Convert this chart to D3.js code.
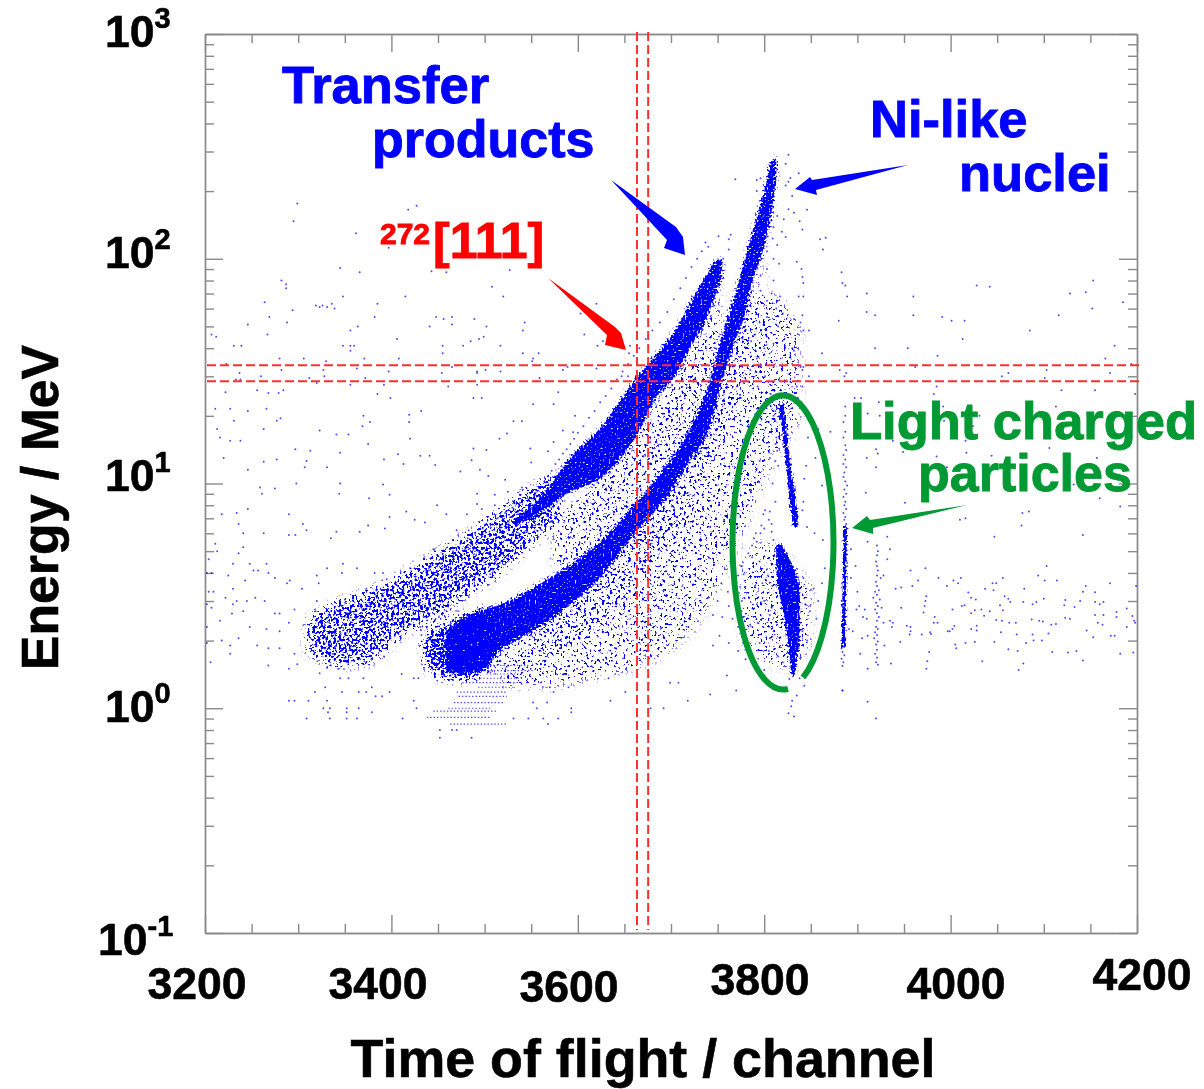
<!DOCTYPE html>
<html>
<head>
<meta charset="utf-8">
<script src="https://cdn.jsdelivr.net/npm/d3@7"></script>
<style>
  html, body { margin: 0; padding: 0; background: #fff; }
  text { font-family: "Liberation Sans", Arial, sans-serif; font-weight: bold; }
  svg { filter: blur(0.4px); }
</style>
</head>
<body>
<div id="chart"></div>
<script>
// Axis ticks
var xMajor = [3200, 3400, 3600, 3800, 4000, 4200];
var xMinor = [3250, 3300, 3350, 3450, 3500, 3550, 3650, 3700, 3750, 3850, 3900, 3950, 4050, 4100, 4150];
var yMajor = [0.1, 1, 10, 100, 1000];
var yMinor = [0.2, 0.3, 0.4, 0.5, 0.6, 0.7, 0.8, 0.9, 2, 3, 4, 5, 6, 7, 8, 9, 20, 30, 40, 50, 60, 70, 80, 90, 200, 300, 400, 500, 600, 700, 800, 900];
var yExponents = ["-1", "0", "1", "2", "3"];

// Red gates
var gateTof = [3663.5, 3675.5];
var gateEnergy = [33.6, 28.5];

// Solid bands: upper and lower energy at each time of flight
var niTof = [3458, 3474, 3495, 3517, 3552, 3588, 3624, 3659, 3696, 3720, 3742, 3755, 3767, 3779, 3788, 3799, 3808, 3813];
var niHigh = [2.1, 2.5, 2.7, 2.9, 3.45, 4.25, 5.5, 7.9, 12.2, 17.4, 29, 46, 66, 99, 135, 193, 275, 285];
var niLow = [1.5, 1.42, 1.46, 1.8, 2.2, 2.8, 3.8, 5.85, 8.8, 12.6, 18, 28.6, 41, 55.7, 80, 108, 160, 225];

var transferTof = [3530, 3552, 3570, 3588, 3624, 3664, 3685, 3704, 3720, 3739, 3750, 3755];
var transferHigh = [6.9, 8, 9.8, 12.5, 17.7, 30, 38, 48, 63, 86, 100, 100];
var transferLow = [6.5, 7.1, 7.9, 9, 10.5, 16.5, 24.4, 29.6, 39.5, 55, 73, 82];

// Lighter density clouds
var upperCloudTof = [3310, 3345, 3375, 3410, 3445, 3480, 3516, 3552, 3580];
var upperCloudHigh = [2.5, 3.0, 3.3, 3.9, 4.8, 5.9, 7.6, 9.7, 11];
var upperCloudLow = [1.8, 1.55, 1.6, 2.1, 2.5, 3.2, 4.0, 5.5, 6.8];

var footTof = [3435, 3458, 3480, 3510];
var footHigh = [2.1, 2.4, 2.6, 2.8];
var footLow = [1.6, 1.35, 1.35, 1.5];

var skirtInnerTof = [3552, 3624, 3678, 3731, 3774, 3800];
var skirtInnerHigh = [2.34, 4.03, 8, 16, 50, 110];
var skirtInnerLow = [1.72, 2.34, 4.3, 9.3, 29, 65];

var skirtTof = [3517, 3570, 3624, 3678, 3731, 3774, 3806, 3838];
var skirtHigh = [1.91, 2.6, 4.03, 8, 16.4, 50, 70, 50];
var skirtLow = [1.25, 1.25, 1.38, 1.6, 2.46, 5.6, 11.4, 19];

var gapTof = [3575, 3624, 3667, 3710, 3742, 3752];
var gapHigh = [7, 10.5, 18, 32, 60, 80];
var gapLow = [4.2, 5.2, 7.5, 12, 28, 45];

var lightCloudTof = [3775, 3800, 3830, 3850];
var lightCloudHigh = [4.5, 5.5, 4.5, 3.5];
var lightCloudLow = [2, 1.6, 1.5, 2];

// Near vertical streaks: left and right time of flight at each energy
var streakAEnergy = [22.6, 14.5, 10.3, 7.3, 6.4];
var streakALeft = [3815, 3821.5, 3825, 3829, 3831];
var streakARight = [3821, 3826, 3831, 3836, 3836];

var streakBEnergy = [5.4, 4.2, 3.4, 2.64, 2.05, 1.75, 1.4];
var streakBLeft = [3813, 3813, 3815, 3821, 3825, 3827, 3829];
var streakBRight = [3819, 3832, 3838, 3838, 3838, 3836, 3833];

var streakCEnergy = [6.5, 1.85];
var streakCLeft = [3885, 3883];
var streakCRight = [3889, 3887];

// Quantised rows at the foot of the Ni band
var rowEnergy = [1.55, 1.47, 1.42, 1.36, 1.3, 1.24, 1.18, 1.13, 1.06, 1.0, 0.97, 0.91, 0.85];
var rowStart = [3502, 3499, 3502, 3495, 3476, 3493, 3470, 3472, 3467, 3461, 3445, 3438, 3463];
var rowEnd = [3547, 3552, 3542, 3542, 3540, 3531, 3524, 3524, 3522, 3506, 3513, 3506, 3524];

// Single events [time of flight, energy]
var sparseLeft = [[3222,25.5],[3256,26],[3268,25.3],[3279,25.3],[3284,26],[3320,28],[3356,27.5],[3392,27.5],[3385,25],[3399,24],[3211,21.5],[3227,21.5],[3246,21],[3266,21.5],[3281,19.5],[3277,19],[3231,19],[3213,17.5],[3263,17.5],[3216,16],[3227,15.5],[3238,15.5],[3220,13],[3263,12.5],[3277,12.8],[3246,11.5],[3297,14.2],[3313,14],[3309,12.6],[3307,11.8],[3331,11.8],[3345,13.7],[3341,16.5],[3354,16.5],[3323,17.2],[3370,20],[3369,18],[3377,18.8],[3375,15],[3392,12.8],[3407,13.5],[3413,12.2],[3420,15.8],[3419,18.8],[3419,20.2],[3432,21],[3461,27],[3492,27.5],[3488,24],[3497,24],[3259,9.6],[3275,9.5],[3261,9],[3298,10],[3345,10],[3344,9],[3376,8.6],[3398,8.9],[3391,9.9],[3246,7.7],[3234,7.4],[3218,7.3],[3290,7.3],[3305,6.6],[3236,6.6],[3241,6],[3263,6],[3290,5.9],[3297,5.9],[3309,6.2],[3341,6.1],[3335,5.7],[3366,6.1],[3375,6.5],[3393,6.3],[3398,7.1],[3416,7.5],[3425,6.9],[3436,6.7],[3449,8],[3459,7.3],[3481,7.3],[3492,8.1],[3511,8.9],[3492,9],[3511,8],[3431,13.3],[3441,13.3],[3447,12.1],[3474,11.3],[3495,11.5],[3486,12.7],[3504,10.8],[3522,10.4],[3540,9.6],[3488,14.3],[3502,14.1],[3516,15.8],[3524,16.7],[3549,14.3],[3568,13.9],[3550,12.4],[3540,18.9],[3531,18.9],[3552,22.5],[3574,22.5],[3579,25.5],[3597,20],[3584,17.2],[3574,15.3],[3595,16.9],[3211,5.4],[3241,5.2],[3236,4.9],[3230,4.4],[3248,4.4],[3266,4.4],[3213,5],[3204,4.6],[3202,4],[3207,4],[3225,3.9],[3252,4.1],[3257,4.1],[3268,4],[3275,3.8],[3288,3.6],[3291,3.7],[3304,3.4],[3320,3.9],[3322,3.6],[3331,4.2],[3348,4.4],[3347,4],[3363,4.2],[3382,4],[3391,4],[3230,3.4],[3243,3.7],[3209,3.3],[3204,3.3],[3222,3.1],[3234,3],[3245,3],[3254,3.1],[3264,3],[3202,2.9],[3207,2.8],[3230,2.9],[3241,2.7],[3229,2.64],[3275,2.64],[3280,2.64],[3296,2.75],[3318,2.75],[3320,3],[3202,2.3],[3216,2.45],[3248,2.3],[3266,2.25],[3280,2.2],[3290,2.4],[3236,2.05],[3218,2],[3202,1.95],[3227,1.9],[3256,1.9],[3268,1.85],[3280,1.85],[3296,1.75],[3227,1.75],[3206,1.6],[3268,1.55],[3290,1.5],[3299,1.57]];

var sparseTop = [[3299,176],[3295,147],[3362,130],[3418,165],[3427,172],[3397,112],[3496,103],[3345,91],[3366,87],[3443,88],[3459,87],[3527,89],[3282,80],[3287,77],[3287,74],[3508,75],[3415,68],[3348,68],[3520,68],[3264,64],[3385,63],[3319,62],[3323,61],[3326,62],[3331,61],[3336,63],[3339,60],[3294,59],[3620,63],[3269,55],[3382,55],[3448,55],[3456,54],[3465,55],[3603,57],[3246,51],[3288,52],[3465,51],[3489,54],[3543,52],[3502,50],[3441,50],[3364,50],[3356,48],[3541,48],[3607,46],[3207,46],[3212,45],[3267,46],[3499,45],[3494,44],[3485,43],[3477,41],[3406,44],[3627,43],[3231,41],[3239,41],[3348,41],[3356,41],[3360,41],[3455,41],[3517,41],[3621,41],[3656,41],[3356,39],[3455,38],[3541,38],[3558,38],[3655,38],[3280,36],[3306,36],[3330,35],[3371,36],[3408,36],[3552,36],[3551,35],[3223,34],[3465,33],[3589,33],[3237,31],[3282,32],[3327,32],[3363,32.5],[3397,31.5],[3454,31],[3492,31.5],[3501,32],[3517,31.5],[3584,32],[3620,32.5],[3233,29],[3238,29],[3260,30],[3312,29.5],[3328,30],[3372,29.5],[3492,31],[3559,29.5],[3647,30],[3654,30]];

var sparseLow = [[3452,0.8],[3465,0.8],[3470,0.8],[3452,0.74],[3486,0.74],[3309,0.9],[3334,0.9],[3352,0.9],[3363,0.9],[3412,0.9],[3332,0.96],[3352,0.96],[3379,0.96],[3290,1.08],[3296,1.08],[3311,1.08],[3331,1.08],[3327,1],[3334,1],[3352,1],[3365,1],[3424,1.08],[3427,1],[3318,1.18],[3347,1.18],[3365,1.18],[3373,1.18],[3383,1.13],[3390,1.13],[3398,1.18],[3329,1.24],[3345,1.36],[3354,1.36],[3370,1.36],[3379,1.24],[3323,1.43],[3331,1.52],[3411,1.42],[3424,1.36],[3429,1.36],[3574,1.18],[3590,1.24],[3593,1],[3593,0.96],[3579,0.9],[3563,0.9],[3547,0.9],[3531,0.9],[3568,0.85],[3651,1.18],[3635,1.08],[3678,1],[3692,1],[3718,1.08],[3699,1.3],[3708,1.3],[3676,1.3],[3633,1.36],[3617,1.47],[3570,1.24],[3552,1.06],[3567,1.06],[3556,1]];

var upperStipple = [[3312,2.1],[3316,2.25],[3319,1.95],[3324,2.4],[3327,2.05],[3329,1.85],[3332,2.3],[3335,2.55],[3337,1.75],[3339,2.15],[3353,2.65],[3362,2.5],[3369,2.75],[3377,2.9],[3390,3.0],[3400,3.2],[3412,3.35],[3422,3.6],[3432,3.8],[3440,4.1],[3448,4.4],[3458,4.7],[3466,5.0],[3474,5.4],[3482,5.7],[3490,6.0],[3498,6.3],[3506,6.6],[3514,7.0],[3522,7.4],[3530,7.8],[3538,8.2],[3546,8.6],[3554,9.1],[3560,9.6],[3564,10.2],[3568,10.8],[3572,11.4],[3576,12.2],[3580,12.8],[3584,13.6],[3588,14.2],[3592,15],[3596,15.8],[3600,16.8],[3606,18],[3612,19.6],[3618,21],[3624,23],[3630,24.5],[3636,26.5],[3642,29],[3648,31.5],[3654,34],[3660,37],[3666,40],[3673,44],[3680,48],[3688,52],[3696,58],[3703,66],[3710,74],[3716,82],[3722,92],[3728,100],[3733,108],[3737,118],[3350,3.05],[3373,3.4],[3395,3.75],[3420,4.2],[3445,5.1],[3470,6.2],[3497,7.7],[3525,9.2],[3335,1.55],[3352,1.6],[3371,1.62],[3392,1.7],[3410,2.05],[3431,2.3],[3451,2.55],[3471,3.1],[3489,3.5],[3506,3.95]];

var niFringe = [[3826,290],[3823,265],[3837,240],[3828,229],[3826,220],[3823,212],[3769,226],[3792,224],[3796,228],[3792,200],[3830,190],[3826,166],[3832,160],[3846,165],[3838,147],[3841,135],[3860,122],[3866,124],[3863,110],[3764,128],[3762,122],[3751,126],[3740,113],[3756,100],[3762,110],[3835,97],[3840,90],[3841,83],[3884,78],[3842,78],[3889,68],[3837,68],[3842,68],[3910,58],[3880,53],[3841,56],[3839,52],[3832,54],[3848,48],[3842,48],[3919,40],[3862,38],[3830,40],[3832,39],[3881,32],[3842,33],[3839,33],[3830,34],[3841,32],[3848,30],[3841,27],[3835,27],[3887,22],[3871,17],[3819,25],[3824,24],[3821,150],[3814,155],[3810,138],[3819,132],[3823,125],[3814,115],[3809,123],[3803,108],[3810,100],[3816,95],[3803,90],[3796,84],[3810,80],[3808,70],[3817,68],[3803,65],[3796,72],[3813,60],[3820,57],[3803,55],[3815,50],[3803,45],[3795,52],[3790,46],[3810,42],[3800,40],[3792,36],[3786,43],[3810,33],[3796,33],[3785,32],[3770,31],[3801,30],[3778,28],[3793,27],[3807,25],[3775,24]];

var lightCluster = [[3801,7.6],[3799,7.3],[3806,7.5],[3805,6.9],[3797,6.5],[3808,6.6],[3796,6.0],[3808,6.1],[3800,6.3],[3791,6],[3810,5.6],[3814,5.1],[3815,4.9],[3789,5.7],[3787,5.3],[3792,5.5],[3783,4.9],[3787,4.7],[3795,4.5],[3776,4.3],[3772,3.9],[3778,3.95],[3812,21],[3812,19],[3813,17.5],[3813,16],[3812,15],[3814,14],[3810,20],[3815,12],[3812,12.6],[3809,10],[3812,8.3],[3795,12.6],[3806,13],[3790,10.6],[3845,12],[3847,16],[3858,17.5],[3855,13],[3843,10.5],[3842,8.3],[3832,9.4],[3841,7.6],[3846,6.4],[3854,6],[3862,9.8],[3863,5.6],[3865,4.2],[3862,3.6],[3858,3],[3853,3.4],[3842,3.8],[3844,2.9],[3849,2.7],[3856,2.5],[3804,3.9],[3809,3.5],[3798,3.6],[3790,3.5],[3784,3.1],[3776,3],[3792,2.9],[3800,3],[3808,2.8],[3806,2.6],[3793,2.4],[3799,2.3],[3785,2.35],[3772,2.3],[3810,2.2],[3806,2.05],[3795,1.95],[3805,1.8],[3815,1.7],[3820,1.6],[3841,2.2],[3846,2],[3837,1.85],[3820,1.2],[3827,1.35],[3830,1.08],[3835,1.14],[3826,0.95],[3832,0.92],[3829,1.02],[3838,1.36],[3843,1.26],[3746,3.5],[3754,3.6],[3761,3.3],[3750,3],[3762,2.85],[3745,2.6],[3755,2.55],[3766,2.5],[3752,2.1],[3762,1.95],[3772,1.8],[3745,1.9],[3780,1.65],[3790,1.5],[3800,1.48],[3760,1.4],[3770,1.2],[3742,1.15]];

var line3Upper = [[3887,20],[3885,18.8],[3887,17],[3885,16],[3887,14.8],[3888,14.1],[3885,13.4],[3887,12.8],[3885,12.2],[3888,11.8],[3886,11.2],[3885,10.7],[3887,10.2],[3889,9.8],[3886,9.4],[3888,9],[3885,8.7],[3887,8.3],[3886,8],[3888,7.7],[3885,7.4],[3887,7.1],[3886,6.9],[3888,6.6],[3884,1.78],[3886,1.72],[3883,1.66],[3885,1.6],[3884,1.54],[3884,1.2]];
var line4 = [[3921,5.3],[3922,5],[3921,4.8],[3920,4.5],[3921,4.3],[3922,4.1],[3921,3.9],[3925,3.8],[3920,3.65],[3921,3.5],[3923,3.35],[3919,3.3],[3921,3.2],[3917,3.1],[3924,3.05],[3920,2.95],[3922,2.85],[3926,2.8],[3919,2.75],[3921,2.65],[3923,2.55],[3921,2.45],[3920,2.3],[3922,2.25],[3919,2.18],[3921,2.12],[3918,2.05],[3922,1.98],[3920,1.92],[3921,1.82],[3919,1.75],[3921,1.68],[3920,1.6],[3922,1.56]];
var betweenLines = [[3902,2.85],[3899,2.75],[3908,2.75],[3906,2.55],[3910,2.5],[3928,2.4],[3935,2.45],[3938,2.4],[3937,2.3],[3895,2.2],[3891,2.25],[3905,2.05],[3911,2.1],[3903,1.75],[3929,1.9],[3900,3.3],[3893,3.8],[3898,4.3],[3893,5.1]];

var sparseRight = [[3883,87],[3887,76],[3910,70],[3960,68],[4028,76],[4042,75],[4128,70],[4145,71],[4153,80],[4185,64],[4152,60],[3919,56],[3960,56],[3991,55],[4001,53],[4015,53],[4116,56],[4085,48],[4013,44],[3954,40],[3986,37],[4176,41],[4166,36],[4194,34],[3962,33],[4103,32],[4055,30],[4062,31],[4171,31],[4101,29.5],[3888,31],[3886,30],[3985,27],[3982,25],[4155,26],[4119,26],[4198,25],[3897,24],[3904,24],[3923,23],[3992,22],[4113,22],[3911,20.5],[3924,20],[4031,20],[3993,19],[4024,18],[3938,15.5],[4016,15.5],[4106,14.4],[3920,14.2],[3922,13.6],[3949,13.8],[4017,13.7],[3910,13],[3985,13.2],[4044,13.3],[4157,13],[3920,11.8],[3996,11.8],[3909,9.1],[3951,8.2],[4132,9.9],[4160,8.6],[4182,7.9],[4077,7.4],[4084,7.5],[4010,6.9],[4016,7],[4076,6.5],[4142,5.9],[4047,5.8],[3932,5.8],[3935,5.1],[3911,5.5],[3932,4.6],[4103,4.3],[3973,4.2],[3957,4.1],[4094,3.9],[3928,3.9],[4011,3.8],[4056,3.8],[4101,3.7],[4114,3.7],[3965,3.7],[4003,3.7],[3987,3.8],[4049,3.6],[4171,3.6],[4008,3.6],[3959,3.5],[3996,3.5],[4045,3.6],[4145,3.5],[4199,3.5],[3947,3.45],[3941,3.4],[4037,3.4],[4079,3.4],[4142,3.3],[4019,3.27],[4046,3.35],[4155,3.28],[3974,3.15],[4058,3.15],[4022,3.1],[4027,3.05],[4100,3.07],[4062,3.07],[4064,2.97],[4078,2.97],[4092,2.97],[4088,2.9],[3973,3],[4123,3.03],[4139,3],[4155,2.97],[4164,2.97],[4160,2.9],[4012,2.85],[4015,2.87],[4002,2.75],[4053,2.87],[3972,2.85],[4122,2.87],[3947,2.8],[4133,2.82],[4189,2.78],[4026,2.73],[4033,2.75],[4056,2.73],[4178,2.68],[3971,2.67],[4022,2.65],[4042,2.7],[4155,2.6],[4164,2.6],[4036,2.58],[3983,2.55],[4123,2.53],[4128,2.5],[4178,2.55],[4195,2.57],[4049,2.47],[4055,2.45],[4087,2.48],[4095,2.45],[4099,2.43],[4197,2.45],[4198,2.4],[3982,2.4],[3986,2.4],[4063,2.4],[4070,2.4],[4108,2.35],[4113,2.37],[4158,2.4],[4163,2.35],[3953,2.33],[3957,2.3],[4004,2.32],[4028,2.33],[4189,2.3],[4002,2.25],[4022,2.25],[4028,2.22],[3999,2.2],[3997,2.2],[4146,2.22],[3957,2.2],[3978,2.18],[4054,2.18],[4105,2.15],[3969,2.13],[3979,2.14],[3956,2.13],[4071,2.13],[4088,2.13],[4153,2.07],[4172,2.1],[4176,2.1],[4089,2],[4098,2],[4016,1.95],[4005,1.92],[4026,1.97],[4047,1.97],[3946,1.97],[4081,1.95],[4006,1.85],[4062,1.83],[4072,1.8],[3977,1.78],[4109,1.78],[4135,1.8],[4126,1.77],[4196,1.77],[4182,1.75],[4142,1.63],[3975,1.62],[4034,1.62],[4078,1.58],[3936,1.58],[3974,1.5],[4073,1.48],[3911,1.5],[3884,1.2],[3911,1.07],[3920,0.9]];

var allEvents = [].concat(sparseLeft, sparseTop, sparseLow, upperStipple, niFringe, lightCluster, line3Upper, line4, betweenLines, sparseRight);

// Size
var W = 1204, H = 1089,
    margin = {top: 34, right: 67, bottom: 156, left: 205},
    width = W - margin.left - margin.right,
    height = H - margin.top - margin.bottom;

var colors = {blue: "#0000ff", red: "#ff0000", dash: "#ff2f2f", green: "#009933", frame: "#8a8a8a"};

var svg = d3.select("#chart").append("svg")
  .attr("width", W)
  .attr("height", H)
  .style("display", "block");

// Density regions are too crowded to read event by event, this filter
// breaks their fill up into specks, denser where the fill opacity is higher
function speckleFilter(id, soft, slope, grain) {
  var f = svg.append("defs").append("filter")
    .attr("id", id)
    .attr("filterUnits", "userSpaceOnUse")
    .attr("x", 0).attr("y", 0)
    .attr("width", width).attr("height", height)
    .attr("color-interpolation-filters", "sRGB");
  f.append("feGaussianBlur").attr("in", "SourceAlpha").attr("stdDeviation", soft).attr("result", "density");
  f.append("feTurbulence").attr("type", "fractalNoise").attr("baseFrequency", grain).attr("numOctaves", 2).attr("seed", 4).attr("result", "noise");
  f.append("feColorMatrix").attr("in", "noise").attr("type", "matrix")
    .attr("values", "0 0 0 0 0  0 0 0 0 0  0 0 0 0 0  2.2 0 0 0 -0.5").attr("result", "grain");
  f.append("feComposite").attr("in", "grain").attr("in2", "density").attr("operator", "arithmetic")
    .attr("k1", 0).attr("k2", 1).attr("k3", 1).attr("k4", -1).attr("result", "mix");
  f.append("feComponentTransfer").attr("in", "mix").attr("result", "specks")
    .append("feFuncA").attr("type", "linear").attr("slope", slope);
  f.append("feFlood").attr("flood-color", colors.blue).attr("result", "ink");
  f.append("feComposite").attr("in", "ink").attr("in2", "specks").attr("operator", "in");
}
speckleFilter("speckleWide", 5, 7, 0.38);
speckleFilter("speckle", 2.2, 3.5, 0.5);
speckleFilter("speckleThin", 0.9, 3.5, 0.5);

var plot = svg.append("g")
  .attr("transform", "translate(" + margin.left + "," + margin.top + ")");

var x = d3.scaleLinear().domain([3200, 4200]).range([0, width]);
var y = d3.scaleLog().domain([0.1, 1000]).range([height, 0]);

// Frame and ticks
function drawAxis(axis, transform, values, size) {
  var g = plot.append("g")
    .attr("transform", transform)
    .call(axis.tickValues(values).tickSize(size).tickSizeOuter(0).tickFormat(""));
  g.selectAll("path, line").attr("stroke", colors.frame).attr("stroke-width", 1.4);
}
drawAxis(d3.axisBottom(x), "translate(0," + height + ")", xMajor, -18);
drawAxis(d3.axisBottom(x), "translate(0," + height + ")", xMinor, -9);
drawAxis(d3.axisTop(x), "translate(0,0)", xMajor, -18);
drawAxis(d3.axisTop(x), "translate(0,0)", xMinor, -9);
drawAxis(d3.axisLeft(y), "translate(0,0)", yMajor, -18);
drawAxis(d3.axisLeft(y), "translate(0,0)", yMinor, -9);
drawAxis(d3.axisRight(y), "translate(" + width + ",0)", yMajor, -18);
drawAxis(d3.axisRight(y), "translate(" + width + ",0)", yMinor, -9);

// Density shapes
var clouds = plot.append("g").attr("filter", "url(#speckleWide)");
var solid = plot.append("g").attr("filter", "url(#speckle)");
var thin = plot.append("g").attr("filter", "url(#speckleThin)");

function band(target, tof, high, low, opacity) {
  var area = d3.area()
    .x(function(d) { return x(d); })
    .y0(function(d, i) { return y(low[i]); })
    .y1(function(d, i) { return y(high[i]); })
    .curve(d3.curveMonotoneX);
  target.append("path")
    .attr("d", area(tof))
    .attr("fill", colors.blue)
    .attr("fill-opacity", opacity);
}
function streak(energy, left, right) {
  var area = d3.area()
    .y(function(d) { return y(d); })
    .x0(function(d, i) { return x(left[i]); })
    .x1(function(d, i) { return x(right[i]); })
    .curve(d3.curveCatmullRom);
  thin.append("path")
    .attr("d", area(energy))
    .attr("fill", colors.blue);
}

band(clouds, skirtTof, skirtHigh, skirtLow, 0.16);
band(clouds, skirtInnerTof, skirtInnerHigh, skirtInnerLow, 0.12);
band(clouds, gapTof, gapHigh, gapLow, 0.2);
band(clouds, lightCloudTof, lightCloudHigh, lightCloudLow, 0.16);
band(clouds, upperCloudTof, upperCloudHigh, upperCloudLow, 0.42);
band(clouds, footTof, footHigh, footLow, 0.55);
band(solid, transferTof, transferHigh, transferLow, 1);
band(solid, niTof, niHigh, niLow, 1);
streak(streakAEnergy, streakALeft, streakARight);
streak(streakBEnergy, streakBLeft, streakBRight);
streak(streakCEnergy, streakCLeft, streakCRight);

var marks = plot.append("g");

marks.selectAll(".row")
  .data(rowEnergy)
  .enter().append("line")
    .attr("class", "row")
    .attr("x1", function(d, i) { return x(rowStart[i]); })
    .attr("x2", function(d, i) { return x(rowEnd[i]); })
    .attr("y1", function(d) { return y(d); })
    .attr("y2", function(d) { return y(d); })
    .attr("stroke", colors.blue)
    .attr("stroke-width", 1.2)
    .attr("stroke-opacity", 0.7)
    .attr("stroke-dasharray", "1.4 2");

// Single events
marks.selectAll(".event")
  .data(allEvents)
  .enter().append("circle")
    .attr("class", "event")
    .attr("cx", function(d) { return x(d[0]); })
    .attr("cy", function(d) { return y(d[1]); })
    .attr("r", 1)
    .attr("fill", colors.blue)
    .attr("fill-opacity", 0.7);

// Gates
var gates = plot.append("g")
  .attr("stroke", colors.dash)
  .attr("stroke-width", 2)
  .attr("stroke-dasharray", "9 4");
gates.selectAll(".gate-v")
  .data(gateTof)
  .enter().append("line")
    .attr("x1", function(d) { return x(d); })
    .attr("x2", function(d) { return x(d); })
    .attr("y1", -2)
    .attr("y2", height - 3);
gates.selectAll(".gate-h")
  .data(gateEnergy)
  .enter().append("line")
    .attr("x1", 2)
    .attr("x2", width + 3)
    .attr("y1", function(d) { return y(d); })
    .attr("y2", function(d) { return y(d); });

// Tick labels, the original figure has them hand placed
var xLabelX = [197, 378, 569, 760, 956, 1142],
    xLabelY = [999, 999, 1002, 995, 999, 990],
    yLabelY = [955, 722, 491, 268, 47],
    yLabelLeft = [98, 105, 105, 105, 105];

svg.selectAll(".xlabel")
  .data(xMajor)
  .enter().append("text")
    .attr("class", "xlabel")
    .attr("x", function(d, i) { return xLabelX[i]; })
    .attr("y", function(d, i) { return xLabelY[i]; })
    .attr("text-anchor", "middle")
    .attr("font-size", 44.5)
    .attr("fill", "#000")
    .attr("stroke", "#000")
    .attr("stroke-width", 0.6)
    .text(function(d) { return d; });

yMajor.forEach(function(d, i) {
  var t = svg.append("text")
    .attr("x", yLabelLeft[i])
    .attr("y", yLabelY[i])
    .attr("fill", "#000")
    .attr("stroke", "#000")
    .attr("stroke-width", 0.6)
    .attr("font-size", 44.5)
    .text("10");
  t.append("tspan")
    .attr("font-size", 29)
    .attr("dy", -19)
    .text(yExponents[i]);
});

// Axis titles
svg.append("text")
  .attr("x", 643)
  .attr("y", 1077)
  .attr("text-anchor", "middle")
  .attr("font-size", 53.8)
  .attr("stroke", "#000")
  .attr("stroke-width", 0.6)
  .text("Time of flight / channel");
svg.append("text")
  .attr("transform", "translate(58,507.5) rotate(-90)")
  .attr("text-anchor", "middle")
  .attr("font-size", 51.8)
  .attr("stroke", "#000")
  .attr("stroke-width", 0.6)
  .text("Energy / MeV");

// Annotations
function note(str, px, py, color, size) {
  return svg.append("text")
    .attr("x", px)
    .attr("y", py)
    .attr("fill", color)
    .attr("stroke", color)
    .attr("stroke-width", 0.9)
    .attr("font-size", size || 52)
    .text(str);
}
note("Transfer", 282, 103, colors.blue, 52.5);
note("products", 372, 157, colors.blue);
note("Ni-like", 870, 137, colors.blue, 52.5);
note("nuclei", 959, 191, colors.blue, 52.5);
note("Light charged", 850, 439, colors.green, 52.5);
note("particles", 918, 491, colors.green);
note("272", 380, 244, colors.red, 30);
note("[111]", 433, 258, colors.red, 50);

function arrow(points, color) {
  svg.append("polygon")
    .attr("points", points.map(function(p) { return p.join(","); }).join(" "))
    .attr("fill", color);
}
arrow([[611,180],[676,227],[683,237],[685,255],[664,248],[667,240]], colors.blue);
arrow([[908,165],[812,180],[810,177],[795,189],[817,195],[816,190]], colors.blue);
arrow([[548,278],[615,327],[621,333],[626,350],[605,345],[607,335]], colors.red);
arrow([[967,505],[870,520],[867,516],[852,528],[873,534],[873,528]], colors.green);

// Ellipse round the light particles, left open at the bottom
svg.append("path")
  .attr("d", "M803,677.5 A50.5,147 0 1 0 788,688.8")
  .attr("fill", "none")
  .attr("stroke", colors.green)
  .attr("stroke-width", 6);
</script>
</body>
</html>
